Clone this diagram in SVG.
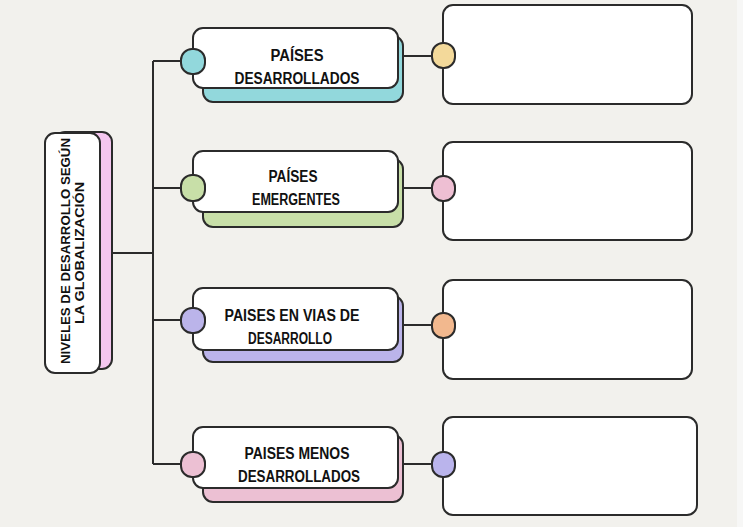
<svg xmlns="http://www.w3.org/2000/svg" width="743" height="527" viewBox="0 0 743 527">
<style>
.bg{fill:#f2f1ed}
.w{fill:#ffffff;stroke:#2b2b2b;stroke-width:2}
.sh{stroke:#2b2b2b;stroke-width:2}
.dot{stroke:#2b2b2b;stroke-width:2}
.ln{fill:none;stroke:#2b2b2b;stroke-width:2}
.t{font-family:"Liberation Sans",Arial,sans-serif;font-weight:bold;font-size:16px;fill:#111;text-anchor:middle}
.tm{font-family:"Liberation Sans",Arial,sans-serif;font-weight:bold;font-size:13px;fill:#111;text-anchor:middle}
</style>
<rect class="bg" x="0" y="0" width="743" height="527"/>
<rect x="737" y="0" width="6" height="527" fill="#f7f7f6"/>
<g id="connectors">
<path class="ln" d="M112 253 H153 M153 61 V464 M153 61 H183 M153 188 H183 M153 320 H183 M153 464 H183"/>
<path class="ln" d="M398 56 H434 M398 188 H434 M398 325 H434 M398 464 H434"/>
</g>
<g id="main">
<rect class="sh" x="55" y="132" width="57" height="237" rx="10" fill="#f4c6ef"/>
<rect class="w" x="45" y="133" width="55" height="240" rx="10"/>
<text class="tm" transform="translate(70 251) rotate(-90)" textLength="226" lengthAdjust="spacingAndGlyphs">NIVELES DE DESARROLLO SEGÚN</text>
<text class="tm" transform="translate(84 253) rotate(-90)" textLength="142" lengthAdjust="spacingAndGlyphs">LA GLOBALIZACIÓN</text>
</g>
<g id="n1">
<rect class="sh" x="203" y="36" width="200" height="66" rx="10" fill="#92d8dc"/>
<rect class="w" x="193" y="28" width="205" height="60" rx="10"/>
<rect class="dot" x="181" y="49" width="24" height="25" rx="11" fill="#92d8dc"/>
<text class="t" x="297" y="61" textLength="53" lengthAdjust="spacingAndGlyphs">PAÍSES</text>
<text class="t" x="297" y="84" textLength="125" lengthAdjust="spacingAndGlyphs">DESARROLLADOS</text>
</g>
<g id="n2">
<rect class="sh" x="203" y="159" width="200" height="68" rx="10" fill="#c8dfa8"/>
<rect class="w" x="193" y="151" width="205" height="61" rx="10"/>
<rect class="dot" x="181" y="175" width="24" height="26" rx="11" fill="#c8dfa8"/>
<text class="t" x="293" y="182" textLength="49" lengthAdjust="spacingAndGlyphs">PAÍSES</text>
<text class="t" x="296" y="205" textLength="88" lengthAdjust="spacingAndGlyphs">EMERGENTES</text>
</g>
<g id="n3">
<rect class="sh" x="203" y="296" width="200" height="66" rx="10" fill="#bbb4ea"/>
<rect class="w" x="193" y="288" width="205" height="62" rx="10"/>
<rect class="dot" x="181" y="308" width="24" height="25" rx="11" fill="#bbb4ea"/>
<text class="t" x="292" y="321" textLength="135" lengthAdjust="spacingAndGlyphs">PAISES EN VIAS DE</text>
<text class="t" x="290" y="344" textLength="84" lengthAdjust="spacingAndGlyphs">DESARROLLO</text>
</g>
<g id="n4">
<rect class="sh" x="203" y="435" width="200" height="67" rx="10" fill="#ecc0d3"/>
<rect class="w" x="193" y="427" width="205" height="61" rx="10"/>
<rect class="dot" x="181" y="452" width="24" height="25" rx="11" fill="#ecc0d3"/>
<text class="t" x="297" y="459" textLength="105" lengthAdjust="spacingAndGlyphs">PAISES MENOS</text>
<text class="t" x="299" y="482" textLength="122" lengthAdjust="spacingAndGlyphs">DESARROLLADOS</text>
</g>
<g id="r1">
<rect class="w" x="443" y="5" width="249" height="99" rx="10"/>
<rect class="dot" x="432" y="43" width="23" height="25" rx="11" fill="#f3d99a"/>
</g>
<g id="r2">
<rect class="w" x="443" y="142" width="249" height="98" rx="10"/>
<rect class="dot" x="432" y="176" width="23" height="25" rx="11" fill="#eebfd3"/>
</g>
<g id="r3">
<rect class="w" x="443" y="280" width="249" height="99" rx="10"/>
<rect class="dot" x="432" y="313" width="23" height="25" rx="11" fill="#f2b88e"/>
</g>
<g id="r4">
<rect class="w" x="443" y="417" width="254" height="98" rx="10"/>
<rect class="dot" x="432" y="452" width="23" height="25" rx="11" fill="#bab4ec"/>
</g>
</svg>
